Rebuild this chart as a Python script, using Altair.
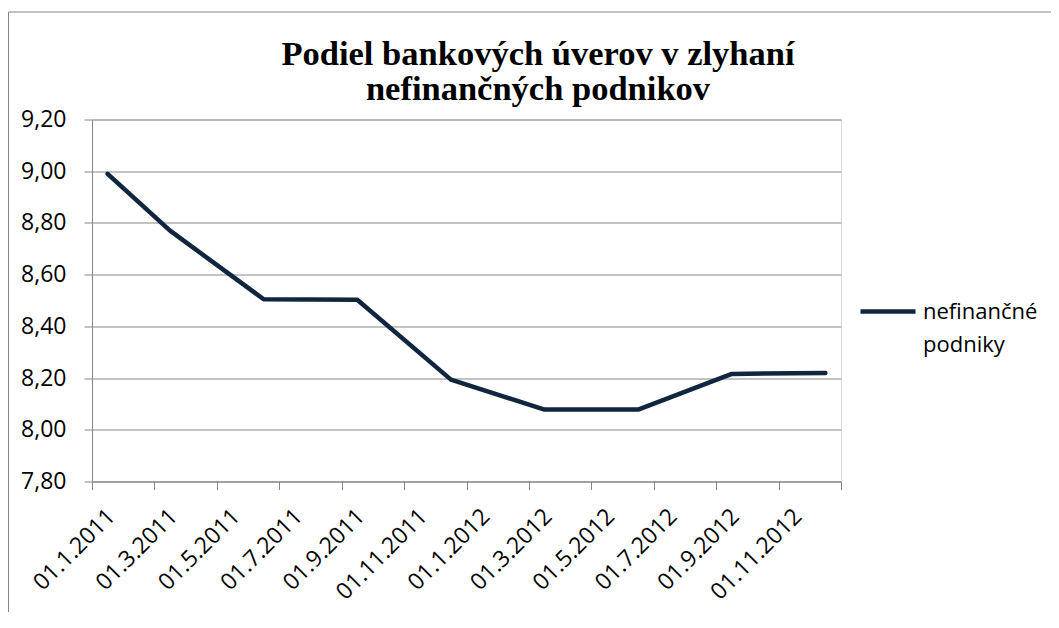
import altair as alt
import pandas as pd

# ---- data ----
MONTHS = ["2011-01", "2011-03", "2011-06", "2011-09", "2011-12",
          "2012-03", "2012-06", "2012-09", "2012-12"]
VALUES = [8.99, 8.77, 8.505, 8.503, 8.194, 8.078, 8.078, 8.216, 8.22]
SERIES = "nefinančné podniky"
TICK_LABELS = ["01.1.2011", "01.3.2011", "01.5.2011", "01.7.2011", "01.9.2011",
               "01.11.2011", "01.1.2012", "01.3.2012", "01.5.2012", "01.7.2012",
               "01.9.2012", "01.11.2012"]
Y_TICKS = [7.8, 8.0, 8.2, 8.4, 8.6, 8.8, 9.0, 9.2]
TITLE = ["Podiel bankových úverov v zlyhaní", "nefinančných podnikov"]

NAVY = "#10263F"
GRAY = "#868686"
LABEL_FONT = "Open Sans"


def month_pos(s):
    # month-based axis (each month equal width), point centred in its month
    y, m = map(int, s.split("-"))
    return (y - 2011) * 12 + (m - 1) + 0.5


df = pd.DataFrame({
    "pos": [month_pos(m) for m in MONTHS],
    "value": VALUES,
    "series": [SERIES] * len(VALUES),
})

x_tick_values = [2 * i for i in range(len(TICK_LABELS) + 1)]
labels_js = "[" + ",".join("'" + t + "'" for t in TICK_LABELS) + "]"
x_label_expr = labels_js + "[datum.value / 2] || ''"

line = alt.Chart(df).mark_line(
    strokeWidth=4.5, strokeCap="round", strokeJoin="round"
).encode(
    x=alt.X(
        "pos:Q",
        scale=alt.Scale(domain=[0, 24], nice=False, zero=False),
        axis=alt.Axis(
            values=x_tick_values, labelExpr=x_label_expr, title=None, grid=False,
            labelAngle=315, labelAlign="right", labelBaseline="middle",
            labelOffset=19, labelPadding=23, labelFlush=False, labelOverlap=False,
            labelFont=LABEL_FONT, labelFontSize=23, labelColor="#000000",
            tickSize=8, tickColor=GRAY, domainColor=GRAY, tickWidth=1, domainWidth=1,
        ),
    ),
    y=alt.Y(
        "value:Q",
        scale=alt.Scale(domain=[7.8, 9.2], nice=False, zero=False),
        axis=alt.Axis(
            values=Y_TICKS, labelExpr="replace(format(datum.value, '.2f'), '.', ',')",
            title=None, grid=True, gridColor=GRAY, gridWidth=1,
            labelFont=LABEL_FONT, labelFontSize=23, labelColor="#000000",
            labelPadding=18, tickSize=8, tickColor=GRAY, domainColor=GRAY,
            tickWidth=1, domainWidth=1,
        ),
    ),
    color=alt.Color(
        "series:N",
        scale=alt.Scale(range=[NAVY]),
        legend=alt.Legend(
            orient="none", legendX=766, legendY=162, title=None, padding=0,
            symbolType="stroke", symbolSize=3025, symbolStrokeWidth=4.5,
            labelFont=LABEL_FONT, labelFontSize=22, labelColor="#000000",
            labelOffset=5, labelExpr="split(datum.label, ' ')",
        ),
    ),
)

# chart-area frame (Excel style border)
frame = alt.Chart(alt.Data(values=[{}])).mark_rect(
    fillOpacity=0, stroke=GRAY, strokeWidth=1
).encode(
    x=alt.value(-83.5), x2=alt.value(3000), y=alt.value(-107.5), y2=alt.value(3000)
)

chart = alt.layer(frame, line).properties(
    width=749,
    height=362,
    autosize=alt.AutoSizeParams(type="none"),
    padding={"left": 84, "top": 111.5, "right": 210, "bottom": 130.5},
    title=alt.TitleParams(
        text=TITLE, font="Liberation Serif", fontSize=34.5, fontWeight="bold",
        color="#000000", anchor="middle", frame="group", dx=71.5, offset=-96,
        lineHeight=35,
    ),
).configure_view(stroke=None).configure(
    background="white", style={"guide-label": {"lineHeight": 33}}
)

chart.save("out.html", embed_options={"renderer": "svg", "actions": False})
